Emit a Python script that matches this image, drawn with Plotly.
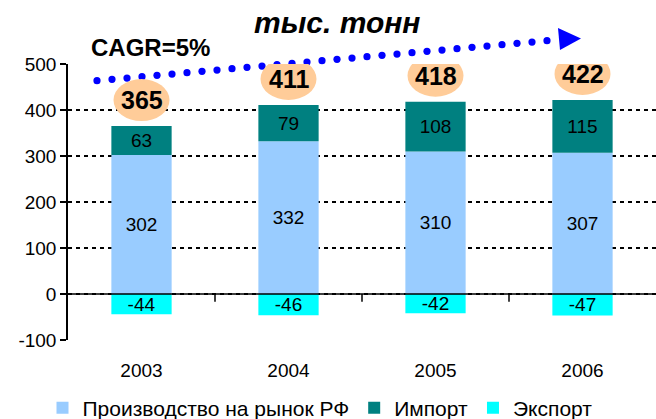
import numpy as np
import plotly.graph_objects as go

years = ["2003", "2004", "2005", "2006"]
production = [302, 332, 310, 307]
imports = [63, 79, 108, 115]
exports = [-44, -46, -42, -47]
totals = [365, 411, 418, 422]
series_names = ["Производство на рынок РФ", "Импорт", "Экспорт"]
ytick_vals = [-100, 0, 100, 200, 300, 400, 500]
ytick_text = ["-100", "0", "100", "200", "300", "400", "500"]
title_text = "тыс. тонн"
cagr_text = "CAGR=5%"

FONT = "Arial, Liberation Sans, sans-serif"
colors = ["#99CCFF", "#008080", "#00FFFF"]

L, R, T, B = 68, 656, 64, 340
W, H = 656, 419


def X(px):
    return (px - L) / (R - L)


def Y(py):
    return (B - py) / (B - T)


fig = go.Figure()
for vals, name, col in zip([production, imports, exports], series_names, colors):
    fig.add_trace(go.Bar(
        x=years, y=vals, name=name, marker=dict(color=col, line=dict(width=0)),
        width=0.41, text=[str(v) for v in vals], textposition="inside",
        insidetextanchor="middle", constraintext="none",
        textfont=dict(family=FONT, size=19, color="black"),
        hoverinfo="skip",
    ))

shapes = []
annotations = []

# decorative dotted trend arrow (page pixel positions converted to paper coords)
for px in np.arange(97, 548, 15):
    py = 80.7 + (px - 97) * (40.7 - 80.7) / (547 - 97)
    shapes.append(dict(type="circle", xref="paper", yref="paper", xsizemode="pixel",
                       ysizemode="pixel", xanchor=X(px), yanchor=Y(py),
                       x0=-3.6, x1=3.6, y0=-3.6, y1=3.6,
                       fillcolor="#0000FF", line=dict(width=0), layer="above"))
tri = [(558, 28), (581, 38.5), (560, 50)]
path = "M " + " L ".join(f"{X(a):.5f},{Y(b):.5f}" for a, b in tri) + " Z"
shapes.append(dict(type="path", xref="paper", yref="paper", path=path,
                   fillcolor="#0000FF", line=dict(width=0), layer="above"))

for i, t in enumerate(totals):
    shapes.append(dict(type="circle", xref="x", yref="y", xsizemode="pixel", ysizemode="pixel",
                       xanchor=i, yanchor=t, x0=-28, x1=28, y0=5, y1=47,
                       fillcolor="#FFCC99", line=dict(width=0), layer="above"))
    annotations.append(dict(x=i, y=t, xref="x", yref="y", yshift=26, text=f"<b>{t}</b>",
                            showarrow=False, xanchor="center", yanchor="middle",
                            font=dict(family=FONT, size=25, color="black")))
for b in [0.5, 1.5, 2.5]:
    shapes.append(dict(type="line", xref="x", yref="y", x0=b, x1=b, y0=0, y1=-17,
                       line=dict(color="black", width=1.5), layer="above"))
shapes.append(dict(type="line", xref="paper", yref="y", x0=0, x1=1, y0=0, y1=0,
                   line=dict(color="black", width=1.5), layer="above"))

annotations.append(dict(x=X(337), y=Y(22), xref="paper", yref="paper",
                        xanchor="center", yanchor="middle",
                        text=f"<b><i>{title_text}</i></b>", showarrow=False,
                        font=dict(family=FONT, size=30, color="black")))
annotations.append(dict(x=X(150), y=Y(48), xref="paper", yref="paper",
                        xanchor="center", yanchor="middle",
                        text=f"<b>{cagr_text}</b>", showarrow=False,
                        font=dict(family=FONT, size=24, color="black")))

fig.update_layout(
    width=W, height=H, barmode="relative",
    margin=dict(l=L, r=W - R, t=T, b=H - B, autoexpand=False),
    plot_bgcolor="white", paper_bgcolor="white",
    font=dict(family=FONT, color="black"),
    showlegend=True,
    legend=dict(orientation="h", x=X(320), xanchor="center", y=Y(408),
                yanchor="middle", font=dict(family=FONT, size=21, color="black"),
                bgcolor="rgba(0,0,0,0)"),
    xaxis=dict(type="category", showgrid=False, showline=False, zeroline=False, ticks="",
               tickfont=dict(family=FONT, size=19, color="black"), ticklabelstandoff=17,
               automargin=False),
    yaxis=dict(range=[-100, 500], tickvals=ytick_vals, ticktext=ytick_text,
               showline=True, linecolor="black", linewidth=1.5,
               ticks="outside", ticklen=6, tickcolor="black", tickwidth=1.5,
               showgrid=True, gridcolor="black", gridwidth=1.5, griddash="4px,4px",
               zeroline=False, automargin=False,
               tickfont=dict(family=FONT, size=19, color="black")),
    shapes=shapes, annotations=annotations,
)

fig.write_html("out.html", config={"displayModeBar": False},
               post_script="document.body.style.margin='0';")
